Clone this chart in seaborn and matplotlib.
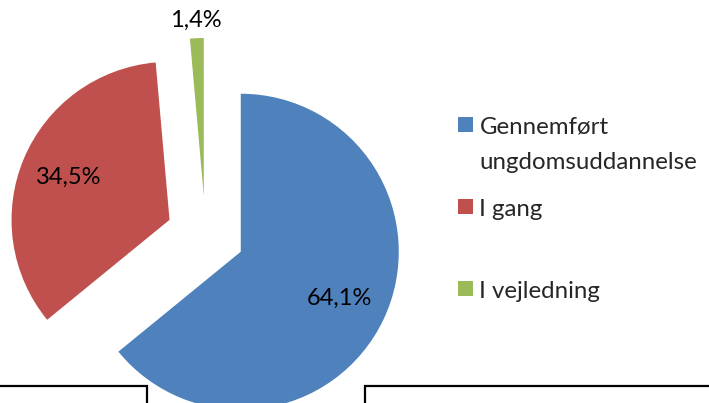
import seaborn as sns
import matplotlib.pyplot as plt
from matplotlib.patches import Rectangle
import numpy as np

labels = ['Gennemført\nungdomsuddannelse', 'I gang\n', 'I vejledning']
shares = [64.1, 34.5, 1.4]
colors = ['#4F81BD', '#C0504D', '#9BBB59']

sns.set_theme(style='white')
plt.rcParams['font.family'] = ['Lato', 'DejaVu Sans']

fig = plt.figure(figsize=(7.09, 4.03), dpi=100)
ax = fig.add_axes([0, 0, 1, 1])

wedges, texts, autotexts = ax.pie(
    shares, colors=colors, startangle=90, counterclock=False, radius=1,
    explode=[0.247] * 3, pctdistance=0.69,
    autopct=lambda p: f'{p:.1f}%'.replace('.', ','),
    textprops=dict(fontsize=17, color='black'),
    wedgeprops=dict(linewidth=0))

# small slice gets its label outside
w = wedges[2]
mid = np.deg2rad((w.theta1 + w.theta2) / 2)
autotexts[2].set_position((w.center[0] + 1.11 * np.cos(mid),
                           w.center[1] + 1.11 * np.sin(mid)))

ax.set_xlim(-205.5 / 158, (709 - 205.5) / 158)
ax.set_ylim(-168 / 158, (403 - 168) / 158)
ax.set_aspect('auto')
ax.axis('off')

leg = fig.legend(wedges, labels, loc='upper left',
                 bbox_to_anchor=(458 / 709, 1 - 117 / 403),
                 frameon=False, fontsize=17.3, borderpad=0, borderaxespad=0,
                 handlelength=0.64, handleheight=0.6, handletextpad=0.25,
                 labelspacing=1.1)
for col in leg._legend_handle_box.get_children():
    for item in col.get_children():
        item.align = 'top'
for t in leg.get_texts():
    t.set_linespacing(1.8)

# text boxes of the page below the chart
for x0, x1 in [(-5, 147), (365, 715)]:
    fig.patches.append(Rectangle((x0 / 709, -0.1), (x1 - x0) / 709, 0.1 + (403 - 386) / 403,
                                 transform=fig.transFigure, facecolor='white',
                                 edgecolor='black', linewidth=1.6, zorder=5))

plt.savefig('out.png', dpi=100)
